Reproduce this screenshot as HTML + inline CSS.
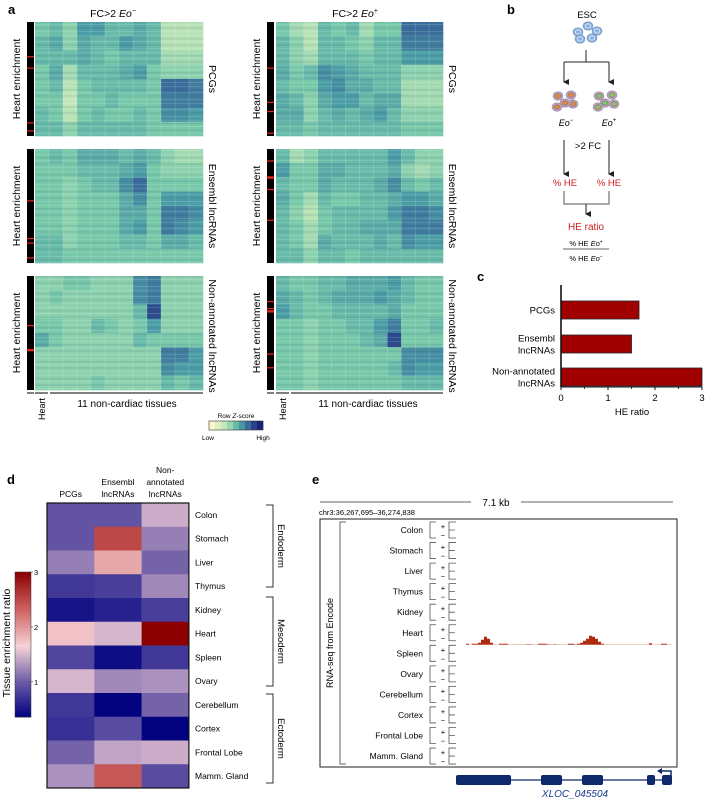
<!DOCTYPE html>
<html><head><meta charset="utf-8">
<style>
html,body{margin:0;padding:0;background:#fff;}
svg{display:block;font-family:"Liberation Sans",Arial,sans-serif;}
</style></head>
<body>
<svg id="fig" width="706" height="799" viewBox="0 0 706 799" xmlns="http://www.w3.org/2000/svg">
<defs>
<pattern id="stripes" width="168" height="17" patternUnits="userSpaceOnUse">
<rect x="0" y="1" width="168" height="1" fill="#fff" opacity="0.12"/>
<rect x="0" y="4" width="168" height="1.5" fill="#1a2a6a" opacity="0.10"/>
<rect x="0" y="7" width="168" height="1" fill="#fff" opacity="0.15"/>
<rect x="0" y="10" width="168" height="2" fill="#1a2a6a" opacity="0.08"/>
<rect x="0" y="14" width="168" height="1" fill="#fff" opacity="0.12"/>
</pattern>
<marker id="arr" markerWidth="6" markerHeight="6" refX="3" refY="5" orient="auto-start-reverse" markerUnits="userSpaceOnUse"><path d="M0,0 L6,0 L3,6 z" fill="#222"/></marker>
</defs>
<g id="root"></g>
</svg>
<script>
// ---------- Panel a data (band-level row Z-score, 0=low,1=high) ----------
const aBands_PCG_minus=[[.45,.5,.4,.6,.6,.5,.5,.55,.5,.3,.3,.3],[.5,.55,.4,.55,.5,.5,.6,.55,.5,.3,.3,.3],[.5,.5,.5,.55,.5,.45,.5,.5,.5,.35,.35,.35],[.45,.55,.35,.5,.5,.5,.55,.6,.45,.4,.4,.4],[.45,.5,.3,.45,.5,.5,.5,.5,.45,.75,.75,.7],[.45,.45,.25,.45,.45,.5,.45,.45,.45,.7,.7,.7],[.5,.45,.3,.45,.5,.45,.45,.5,.45,.65,.65,.6],[.5,.5,.4,.5,.5,.5,.5,.5,.45,.45,.45,.45]];
const aBands_PCG_plus=[[.45,.35,.3,.5,.45,.5,.35,.45,.45,.75,.75,.75],[.5,.4,.3,.5,.5,.45,.4,.5,.5,.7,.7,.7],[.5,.4,.35,.5,.5,.5,.45,.5,.5,.6,.6,.6],[.55,.45,.5,.65,.6,.55,.5,.5,.5,.4,.4,.4],[.5,.45,.45,.6,.65,.55,.55,.5,.5,.35,.35,.35],[.55,.5,.4,.55,.6,.6,.5,.55,.55,.35,.35,.35],[.55,.55,.4,.5,.55,.5,.55,.6,.5,.4,.4,.4],[.5,.5,.45,.5,.5,.5,.5,.5,.5,.45,.45,.45]];
const aBands_ENS_minus=[[.45,.5,.45,.55,.55,.55,.5,.55,.5,.4,.35,.35],[.45,.45,.45,.5,.5,.5,.55,.6,.45,.4,.4,.4],[.45,.45,.4,.45,.5,.5,.65,.75,.45,.45,.45,.45],[.45,.45,.4,.45,.45,.45,.55,.65,.45,.6,.6,.6],[.45,.45,.4,.45,.45,.45,.55,.55,.45,.7,.7,.65],[.45,.45,.4,.45,.45,.45,.55,.6,.45,.7,.65,.6],[.5,.5,.4,.45,.45,.45,.5,.5,.45,.55,.55,.5],[.5,.5,.45,.45,.45,.45,.45,.45,.45,.45,.45,.45]];
const aBands_ENS_plus=[[.5,.35,.4,.5,.5,.5,.5,.5,.6,.5,.4,.4],[.6,.45,.45,.55,.55,.5,.5,.5,.55,.4,.35,.4],[.5,.45,.45,.55,.5,.5,.5,.55,.65,.5,.45,.5],[.55,.45,.35,.5,.45,.45,.5,.5,.55,.6,.6,.55],[.5,.4,.3,.45,.5,.5,.5,.5,.6,.7,.7,.65],[.5,.45,.35,.45,.5,.5,.55,.55,.55,.7,.7,.7],[.5,.45,.35,.55,.5,.5,.5,.55,.5,.65,.6,.6],[.5,.5,.4,.5,.5,.45,.5,.5,.5,.5,.5,.5]];
const aBands_NON_minus=[[.4,.4,.45,.45,.4,.4,.4,.65,.7,.4,.4,.4],[.4,.45,.4,.4,.4,.4,.4,.65,.7,.4,.4,.4],[.4,.4,.4,.4,.4,.4,.4,.5,.85,.4,.4,.4],[.45,.45,.4,.4,.5,.45,.4,.45,.6,.4,.4,.4],[.55,.45,.4,.4,.4,.4,.4,.5,.45,.45,.45,.45],[.4,.4,.4,.4,.4,.4,.4,.4,.4,.7,.7,.6],[.4,.4,.4,.4,.4,.4,.4,.4,.4,.65,.6,.6],[.4,.4,.4,.4,.45,.4,.4,.4,.4,.5,.45,.5]];
const aBands_NON_plus=[[.5,.45,.45,.5,.5,.55,.55,.55,.6,.5,.45,.45],[.55,.5,.45,.5,.55,.55,.55,.6,.55,.5,.45,.45],[.6,.5,.45,.45,.5,.5,.5,.5,.55,.45,.45,.45],[.45,.45,.4,.45,.45,.5,.5,.6,.7,.45,.45,.5],[.45,.45,.4,.45,.45,.45,.5,.55,.85,.45,.45,.45],[.45,.45,.4,.45,.45,.45,.45,.45,.45,.65,.65,.65],[.45,.45,.4,.45,.45,.45,.45,.45,.5,.65,.6,.6],[.45,.45,.4,.45,.45,.45,.45,.45,.45,.5,.5,.5]];
const aRedMarks_left=[[.3,.4,.88,.95],[.45,.78,.82,.95],[.43,.64,.65]];
const aRedMarks_right=[[.4,.7,.78,.97],[.1,.24,.25,.35,.62],[.22,.28,.3,.31,.68,.8]];
// ---------- Panel c data ----------
const cCategories=[["PCGs"],["Ensembl","lncRNAs"],["Non-annotated","lncRNAs"]];
const cValues=[1.66,1.5,3.0];
const cTicks=[0,1,2,3];
// ---------- Panel d data ----------
const dColumns=[["PCGs"],["Ensembl","lncRNAs"],["Non-","annotated","lncRNAs"]];
const dRows=["Colon","Stomach","Liver","Thymus","Kidney","Heart","Spleen","Ovary","Cerebellum","Cortex","Frontal Lobe","Mamm. Gland"];
const dPCG=[0.95,0.95,1.2,0.75,0.5,1.75,0.85,1.5,0.75,0.7,1.05,1.3];
const dENS=[0.95,2.5,1.9,0.8,0.6,1.5,0.45,1.25,0.38,0.9,1.4,2.4];
const dNON=[1.45,1.2,1.05,1.25,0.8,3.0,0.75,1.3,1.05,0.38,1.45,0.9];
const dTicks=[1,2,3];
// ---------- Panel e data ----------
const eTracks=["Colon","Stomach","Liver","Thymus","Kidney","Heart","Spleen","Ovary","Cerebellum","Cortex","Frontal Lobe","Mamm. Gland"];
const eHeartCoverage=[1,0,1,1,2,5,8,6,2,0,0,1,1,1,0,0,.3,.3,.3,.3,.5,.5,0,.2,1,1,1,.5,.3,.5,.3,.3,.2,.2,1,1,.4,1,2,4,6,9,8,6,3,1,0,0,0,0,0,0,0,0,0,0,0,0,0,0,0,1.5,0,0,0,1,1,0,0];

const NS="http://www.w3.org/2000/svg";
const root=document.getElementById('root');
function el(tag,attrs,parent,text){const e=document.createElementNS(NS,tag);for(const k in attrs)e.setAttribute(k,attrs[k]);if(text!==undefined)e.textContent=text;(parent||root).appendChild(e);return e;}
function hex(c){return [parseInt(c.slice(1,3),16),parseInt(c.slice(3,5),16),parseInt(c.slice(5,7),16)];}
function interp(stops,v){if(v<=stops[0][0])return stops[0][1];for(let i=1;i<stops.length;i++){if(v<=stops[i][0]){const t=(v-stops[i-1][0])/(stops[i][0]-stops[i-1][0]);const a=hex(stops[i-1][1]),b=hex(stops[i][1]);return 'rgb('+a.map((x,j)=>Math.round(x+(b[j]-x)*t)).join(',')+')';}}return stops[stops.length-1][1];}
const zStops=[[0,'#fbf8cc'],[0.3,'#b8e3b6'],[0.45,'#78c9aa'],[0.6,'#4c9ea6'],[0.75,'#3b6d9b'],[0.9,'#243b86'],[1,'#1a227a']];
const dStops=[[0.36,'#00007f'],[1.0,'#6a5aa6'],[1.65,'#f6d2d8'],[2.3,'#d06565'],[3,'#8b0000']];

// ===== Panel a =====
el('text',{x:8,y:14,'font-size':13,'font-weight':'bold',},root,'a');
const panelYs=[22,149,276], panelH=114;
const sides=[{bar:27,hx:35,hw:168,title:113,rl:209,bands:[aBands_PCG_minus,aBands_ENS_minus,aBands_NON_minus],red:aRedMarks_left,sign:'−'},
             {bar:267,hx:276,hw:167,title:355,rl:449,bands:[aBands_PCG_plus,aBands_ENS_plus,aBands_NON_plus],red:aRedMarks_right,sign:'+'}];
const rowLabels=["PCGs","Ensembl lncRNAs","Non-annotated lncRNAs"];
sides.forEach((s,si)=>{
  const t=el('text',{x:s.title,y:17,'font-size':10.5,'text-anchor':'middle'});
  
  
  el('tspan',{},t,'FC>2 ');el('tspan',{'font-style':'italic'},t,'Eo');el('tspan',{'font-size':7,dy:-4},t,s.sign);
  panelYs.forEach((py,pi)=>{
    const g=el('g',{});
    
    
    const bands=s.bands[pi], nb=bands.length, cw=s.hw/12, bh=panelH/nb;
    bands.forEach((row,bi)=>row.forEach((v,ci)=>{
      const r=el('rect',{x:s.hx+ci*cw,y:py+bi*bh,width:cw+0.3,height:bh+0.3,fill:interp(zStops,v)},g);
      
      
    }));
    el('rect',{x:s.hx,y:py,width:s.hw,height:panelH,fill:'url(#stripes)'},g);
    for(let ci=1;ci<12;ci++) el('line',{x1:s.hx+ci*cw,y1:py,x2:s.hx+ci*cw,y2:py+panelH,stroke:'#fff','stroke-width':0.4,opacity:0.35},g);
    const bar=el('rect',{x:s.bar,y:py,width:7,height:panelH,fill:'#000'});
    
    
    s.red[pi].forEach(f=>el('rect',{x:s.bar,y:py+f*panelH,width:7,height:1.2,fill:'#e8241c'}));
    const he=el('text',{x:0,y:0,'font-size':10.5,'text-anchor':'middle',transform:`translate(${s.bar-7},${py+panelH/2}) rotate(-90)`},root,'Heart enrichment');
    
    
    const rl=el('text',{x:0,y:0,'font-size':10.5,'text-anchor':'middle',transform:`translate(${s.rl},${py+panelH/2+(pi==2?3:0)}) rotate(90)`},root,rowLabels[pi]);
    
    
  });
  el('line',{x1:s.bar,y1:393,x2:s.bar+7,y2:393,stroke:'#000','stroke-width':1});
  el('line',{x1:s.hx,y1:393,x2:s.hx+13,y2:393,stroke:'#000','stroke-width':1});
  el('line',{x1:s.hx+15,y1:393,x2:s.hx+s.hw,y2:393,stroke:'#000','stroke-width':1});
  const h=el('text',{x:0,y:0,'font-size':9,'text-anchor':'end',transform:`translate(${s.hx+10},398) rotate(-90)`},root,'Heart');
  
  
  const nt=el('text',{x:s.hx+92,y:407,'font-size':10,'text-anchor':'middle'},root,'11 non-cardiac tissues');
  
  
});
// legend
{const lt=el('text',{x:236,y:418,'font-size':6.5,'text-anchor':'middle'});


el('tspan',{},lt,'Row ');el('tspan',{'font-style':'italic'},lt,'Z');el('tspan',{},lt,'-score');
for(let i=0;i<9;i++){const r=el('rect',{x:209+i*6,y:421,width:6.2,height:9,fill:interp(zStops,i/8)});}
el('rect',{x:209,y:421,width:54,height:9,fill:'none',stroke:'#333','stroke-width':0.6});
el('text',{x:208,y:440,'font-size':6.5,'text-anchor':'middle'},root,'Low');
el('text',{x:263,y:440,'font-size':6.5,'text-anchor':'middle'},root,'High');}

// ===== Panel b =====
el('text',{x:507,y:14,'font-size':13,'font-weight':'bold',},root,'b');
el('text',{x:587,y:18,'font-size':9.5,'text-anchor':'middle',},root,'ESC');
function cell(x,y,ring,core,corecol){el('ellipse',{cx:x,cy:y,rx:5,ry:4.2,fill:ring,stroke:'#6a8ab8','stroke-width':0.6});el('ellipse',{cx:x,cy:y,rx:2.8,ry:2.2,fill:corecol||'none',stroke:core,'stroke-width':0.8});}
[[578,32],[588,26],[597,31],[580,39],[592,38]].forEach(p=>cell(p[0],p[1],'#8ab0de','#dfe9f6','#8ab0de'));
[[555,96],[568,95],[562,103],[570,104],[554,107]].forEach(p=>cell(p[0]+3,p[1],'#e39aa0','#6a7fb0','#f08a22'));
[[599,96],[612,95],[605,103],[614,104],[598,107]].forEach(p=>cell(p[0],p[1],'#e39aa0','#6a7fb0','#7ed04e'));
el('path',{d:'M586,50 V62 M564,62 H609',stroke:'#222','stroke-width':1,fill:'none'});
el('line',{x1:564,y1:62,x2:564,y2:82,stroke:'#222','stroke-width':1,'marker-end':'url(#arr)'});
el('line',{x1:609,y1:62,x2:609,y2:82,stroke:'#222','stroke-width':1,'marker-end':'url(#arr)'});
{const t1=el('text',{x:566,y:126,'font-size':9,'text-anchor':'middle','font-style':'italic'});t1.textContent='Eo';el('tspan',{'font-size':6,dy:-4,'font-style':'normal'},t1,'−');
const t2=el('text',{x:609,y:126,'font-size':9,'text-anchor':'middle','font-style':'italic'});t2.textContent='Eo';el('tspan',{'font-size':6,dy:-4,'font-style':'normal'},t2,'+');}
el('text',{x:588,y:149,'font-size':9.5,'text-anchor':'middle'},root,'>2 FC');
el('line',{x1:564,y1:140,x2:564,y2:174,stroke:'#222','stroke-width':1,'marker-end':'url(#arr)'});
el('line',{x1:609,y1:140,x2:609,y2:174,stroke:'#222','stroke-width':1,'marker-end':'url(#arr)'});
el('text',{x:565,y:186,'font-size':9.5,'text-anchor':'middle',fill:'#d42020'},root,'% HE');
el('text',{x:609,y:186,'font-size':9.5,'text-anchor':'middle',fill:'#d42020'},root,'% HE');
el('path',{d:'M564,191 V204 H609 V191',stroke:'#555','stroke-width':1,fill:'none'});
el('line',{x1:586,y1:204,x2:586,y2:214,stroke:'#222','stroke-width':1,'marker-end':'url(#arr)'});
el('text',{x:586,y:230,'font-size':10,'text-anchor':'middle',fill:'#d42020',},root,'HE ratio');
{const f1=el('text',{x:586,y:246,'font-size':7.5,'text-anchor':'middle'});f1.textContent='% HE ';el('tspan',{'font-style':'italic'},f1,'Eo');el('tspan',{'font-size':5,dy:-3},f1,'+');
el('line',{x1:563,y1:249,x2:609,y2:249,stroke:'#333','stroke-width':0.8});
const f2=el('text',{x:586,y:261,'font-size':7.5,'text-anchor':'middle'});f2.textContent='% HE ';el('tspan',{'font-style':'italic'},f2,'Eo');el('tspan',{'font-size':5,dy:-3},f2,'−');}

// ===== Panel c =====
el('text',{x:477,y:281,'font-size':13,'font-weight':'bold',},root,'c');
const cX0=561,cX1=702,cMax=3;
const cx=v=>cX0+(v/cMax)*(cX1-cX0);
const cBarY=[301,335,368],cBarH=18;
cValues.forEach((v,i)=>{
  const r=el('rect',{x:cx(0),y:cBarY[i],width:cx(v)-cx(0),height:cBarH,fill:'#a00000',stroke:'#222','stroke-width':0.8});
  
  
  const lines=cCategories[i];
  lines.forEach((ln,j)=>{const t=el('text',{x:555,y:cBarY[i]+cBarH/2+3.5+(j-(lines.length-1)/2)*12,'font-size':9.5,'text-anchor':'end'},root,ln);
    });
});
el('line',{x1:cX0,y1:285,x2:cX0,y2:387,stroke:'#111','stroke-width':1.6});
el('line',{x1:cX0,y1:387,x2:cX1,y2:387,stroke:'#111','stroke-width':1});
cTicks.forEach(t=>{el('line',{x1:cx(t),y1:387,x2:cx(t),y2:390,stroke:'#111','stroke-width':1});
  const tl=el('text',{x:cx(t),y:401,'font-size':9.5,'text-anchor':'middle'},root,String(t));
  if(t<cMax){el('line',{x1:cx(t+0.5),y1:387,x2:cx(t+0.5),y2:389,stroke:'#111','stroke-width':0.8});}});
el('text',{x:632,y:415,'font-size':9.5,'text-anchor':'middle',},root,'HE ratio');

// ===== Panel d =====
el('text',{x:7,y:484,'font-size':13,'font-weight':'bold',},root,'d');
const dX0=47,dCW=47.3,dY0=503,dRH=23.75;
[dPCG,dENS,dNON].forEach((col,ci)=>{
  col.forEach((v,ri)=>{const r=el('rect',{x:dX0+ci*dCW,y:dY0+ri*dRH,width:dCW+0.3,height:dRH+0.3,fill:interp(dStops,v)});
    
    });
  const lines=dColumns[ci];
  lines.forEach((ln,j)=>{const t=el('text',{x:dX0+ci*dCW+dCW/2,y:497-(lines.length-1-j)*12,'font-size':8.5,'text-anchor':'middle'},root,ln);
    });
});
el('rect',{x:dX0,y:dY0,width:3*dCW,height:12*dRH,fill:'none',stroke:'#111','stroke-width':1.2});
dRows.forEach((n,ri)=>{const t=el('text',{x:195,y:dY0+ri*dRH+dRH/2+3,'font-size':8.5},root,n);});
[['Endoderm',505,587],['Mesoderm',597,686],['Ectoderm',694,783]].forEach(g=>{
  el('path',{d:`M266,${g[1]} H273 V${g[2]} H266`,stroke:'#333','stroke-width':1,fill:'none'});
  const t=el('text',{x:0,y:0,'font-size':9.5,'text-anchor':'middle',transform:`translate(278,${(g[1]+g[2])/2}) rotate(90)`},root,g[0]);
  });
// colorbar
const cbTop=572,cbBot=717,cbMin=0.36,cbMax=3;
const cby=v=>cbBot-(v-cbMin)/(cbMax-cbMin)*(cbBot-cbTop);
for(let i=0;i<60;i++){const v0=cbMin+(cbMax-cbMin)*i/60;el('rect',{x:15,y:cby(v0+(cbMax-cbMin)/60),width:16,height:(cbBot-cbTop)/60+0.4,fill:interp(dStops,v0+(cbMax-cbMin)/120)});}
el('rect',{x:15,y:cbTop,width:16,height:cbBot-cbTop,fill:'none',stroke:'#333','stroke-width':0.5});
dTicks.forEach(t=>{el('line',{x1:31,y1:cby(t),x2:33,y2:cby(t),stroke:'#333','stroke-width':0.6});
  const tl=el('text',{x:34,y:cby(t)+3,'font-size':7.5},root,String(t));});
el('text',{x:0,y:0,'font-size':10.5,'text-anchor':'middle',transform:'translate(10,643) rotate(-90)',},root,'Tissue enrichment ratio');

// ===== Panel e =====
el('text',{x:312,y:484,'font-size':13,'font-weight':'bold',},root,'e');
el('line',{x1:320,y1:502,x2:471,y2:502,stroke:'#333','stroke-width':0.8});
el('line',{x1:521,y1:502,x2:673,y2:502,stroke:'#333','stroke-width':0.8});
el('text',{x:496,y:506,'font-size':10,'text-anchor':'middle',},root,'7.1 kb');
el('text',{x:319,y:515,'font-size':7.5,},root,'chr3:36,267,695–36,274,838');
el('rect',{x:320,y:519,width:357,height:248,fill:'none',stroke:'#222','stroke-width':1,});
el('path',{d:'M346,522 H340 V764 H346',stroke:'#666','stroke-width':1,fill:'none'});
el('text',{x:0,y:0,'font-size':9,'text-anchor':'middle',transform:'translate(333,643) rotate(-90)',},root,'RNA-seq from Encode');
const eY0=530,eDY=20.55;
eTracks.forEach((n,i)=>{const y=eY0+i*eDY;
  const t=el('text',{x:423,y:y+3,'font-size':8.5,'text-anchor':'end'},root,n);
  el('path',{d:`M436,${y-8} H430 V${y+8} H436`,stroke:'#555','stroke-width':0.8,fill:'none'});
  el('text',{x:443,y:y-1,'font-size':7.5,'text-anchor':'middle'},root,'+');
  el('text',{x:443,y:y+8,'font-size':7.5,'text-anchor':'middle'},root,'−');
  el('path',{d:`M456,${y-8} H449 V${y+8} H456 M449,${y} H455`,stroke:'#555','stroke-width':0.8,fill:'none'});
});
// heart coverage
const eBase=eY0+5*eDY+12, eBinX0=466, eBinW=3;
eHeartCoverage.forEach((v,i)=>{if(v>0){const r=el('rect',{x:eBinX0+i*eBinW,y:eBase-v,width:eBinW,height:v,fill:'#b02a10'});}});
el('line',{x1:466,y1:eBase,x2:672,y2:eBase,stroke:'#e0a090','stroke-width':0.5});
// gene model
{const g=el('g',{});
el('line',{x1:456,y1:780,x2:672,y2:780,stroke:'#0f2a6a','stroke-width':1.3},g);
[[456,511],[541,562],[582,603],[647,655],[662,672]].forEach(b=>el('rect',{x:b[0],y:775,width:b[1]-b[0],height:10,rx:2,fill:'#0f2a6a'},g));
el('path',{d:'M671,776 V771 H660',stroke:'#0f2a6a','stroke-width':1.5,fill:'none'},g);
el('path',{d:'M657,771 L662,768 L662,774 z',fill:'#0f2a6a'},g);}
el('text',{x:575,y:797,'font-size':10,'text-anchor':'middle','font-style':'italic',fill:'#1a3a8a',},root,'XLOC_045504');
</script>
</body></html>
